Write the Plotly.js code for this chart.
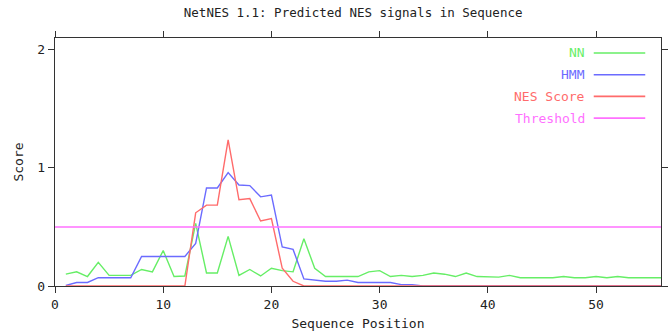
<!DOCTYPE html>
<html>
<head>
<meta charset="utf-8">
<script src="https://cdn.plot.ly/plotly-3.0.1.min.js"></script>
<style>html,body{margin:0;padding:0;background:#fff;}#chart{width:669px;height:334px;}</style>
</head>
<body>
<div id="chart"></div>
<script>
// Sequence positions 1..56
const positions = Array.from({length: 56}, (_, i) => i + 1);

const nnScores = [
  0.10, 0.12, 0.08, 0.20, 0.09, 0.09, 0.09, 0.14, 0.12, 0.30,
  0.08, 0.085, 0.53, 0.11, 0.11, 0.42, 0.09, 0.14, 0.085, 0.15,
  0.13, 0.12, 0.40, 0.15, 0.08, 0.08, 0.08, 0.08, 0.12, 0.13,
  0.08, 0.09, 0.08, 0.09, 0.11, 0.10, 0.08, 0.11, 0.08, 0.08,
  0.075, 0.09, 0.07, 0.07, 0.07, 0.07, 0.08, 0.07, 0.07, 0.08,
  0.07, 0.08, 0.07, 0.07, 0.07, 0.07
];

const hmmScores = [
  0.005, 0.03, 0.03, 0.07, 0.07, 0.07, 0.07, 0.25, 0.25, 0.25,
  0.25, 0.25, 0.36, 0.83, 0.83, 0.96, 0.855, 0.85, 0.755, 0.77,
  0.33, 0.31, 0.06, 0.05, 0.04, 0.04, 0.05, 0.03, 0.03, 0.03,
  0.03, 0.012, 0.012, 0, 0, 0, 0, 0, 0, 0,
  0, 0, 0, 0, 0, 0, 0, 0, 0, 0,
  0, 0, 0, 0, 0, 0
];

const nesScores = [
  0, 0, 0, 0, 0, 0, 0, 0, 0, 0,
  0, 0, 0.62, 0.685, 0.685, 1.237, 0.73, 0.74, 0.55, 0.57,
  0.15, 0.04, 0, 0, 0, 0, 0, 0, 0, 0,
  0, 0, 0, 0, 0, 0, 0, 0, 0, 0,
  0, 0, 0, 0, 0, 0, 0, 0, 0, 0,
  0, 0, 0, 0, 0, 0
];

const thresholdX = [0, 56];
const thresholdValue = 0.5;

const seriesNames = ["NN", "HMM", "NES Score", "Threshold"];
const seriesColors = ["#66ee66", "#6b6bff", "#ff6b6b", "#ff70ff"];

const xTickVals = [0, 10, 20, 30, 40, 50];
const yTickVals = [0, 1, 2];

const font = {family: "DejaVu Sans Mono, Liberation Mono, monospace", size: 13, color: "#222"};

const traces = [
  {x: positions, y: nnScores, name: seriesNames[0], mode: "lines", line: {color: seriesColors[0], width: 1.4}},
  {x: positions, y: hmmScores, name: seriesNames[1], mode: "lines", line: {color: seriesColors[1], width: 1.4}},
  {x: positions, y: nesScores, name: seriesNames[2], mode: "lines", line: {color: seriesColors[2], width: 1.4}},
  {x: thresholdX, y: thresholdX.map(() => thresholdValue), name: seriesNames[3], mode: "lines", line: {color: seriesColors[3], width: 1.6}}
];

// Legend drawn gnuplot-style: text right-aligned, sample line to its right
const annotations = [];
const shapes = [];
const plotTop = 38, plotH = 248;
seriesNames.forEach((name, i) => {
  const ypx = 53 + 21.7 * i;
  const yp = (plotTop + plotH - ypx) / plotH;
  annotations.push({
    xref: "paper", yref: "paper", x: 0.878, y: yp, xanchor: "right", yanchor: "middle",
    text: name, showarrow: false, font: {family: font.family, size: 13, color: seriesColors[i]}
  });
  shapes.push({
    type: "line", xref: "paper", yref: "paper", x0: 0.889, x1: 0.974, y0: yp, y1: yp,
    line: {color: seriesColors[i], width: 1.6}
  });
});

const layout = {
  width: 669, height: 334,
  margin: {l: 55, r: 8, t: 38, b: 48, pad: 0},
  paper_bgcolor: "#fff", plot_bgcolor: "#fff",
  font: font,
  showlegend: false,
  title: {
    text: "NetNES 1.1: Predicted NES signals in Sequence",
    xref: "paper", x: 0.492, xanchor: "center",
    yref: "container", y: 0.961, yanchor: "middle",
    font: {family: font.family, size: 12.5, color: "#222"}
  },
  xaxis: {
    range: [0, 56], tickvals: xTickVals, ticktext: xTickVals.map(String),
    ticks: "outside", ticklen: 6, tickcolor: "#333", tickwidth: 1,
    showline: true, linecolor: "#333", linewidth: 1.2, mirror: "ticks",
    showgrid: false, zeroline: false,
    tickfont: {family: font.family, size: 13, color: "#222"},
    title: {text: "Sequence Position", font: {family: font.family, size: 13, color: "#222"}, standoff: 8}
  },
  yaxis: {
    range: [0, 2.1], tickvals: yTickVals, ticktext: yTickVals.map(String),
    ticks: "outside", ticklen: 6, tickcolor: "#333", tickwidth: 1,
    showline: true, linecolor: "#333", linewidth: 1.2, mirror: "ticks",
    showgrid: false, zeroline: false,
    tickfont: {family: font.family, size: 13, color: "#222"},
    title: {text: "Score", font: {family: font.family, size: 13, color: "#222"}, standoff: 10}
  },
  annotations: annotations,
  shapes: shapes
};

Plotly.newPlot("chart", traces, layout, {displayModeBar: false, staticPlot: true});
</script>
</body>
</html>
